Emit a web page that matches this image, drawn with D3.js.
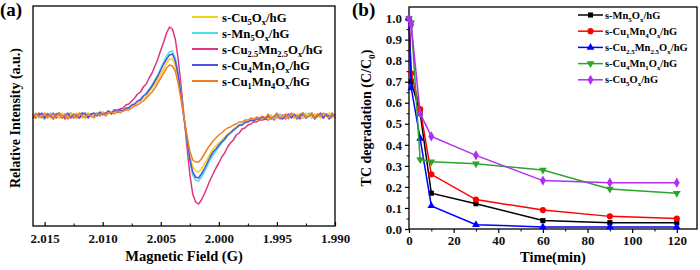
<!DOCTYPE html>
<html>
<head>
<meta charset="utf-8">
<script src="https://cdn.jsdelivr.net/npm/d3@7"></script>
<style>
  body { margin: 0; background: #fff; }
  svg { display: block; font-family: "Liberation Serif", "Times New Roman", serif; font-weight: bold; }
</style>
</head>
<body>
<div id="chart"></div>
<script>
// ---------- panel (a): EPR spectra ----------
const field = [
  2.01600, 2.01575, 2.01550, 2.01525, 2.01500, 2.01475, 2.01450, 2.01425, 2.01400, 2.01375,
  2.01350, 2.01325, 2.01300, 2.01275, 2.01250, 2.01225, 2.01200, 2.01175, 2.01150, 2.01125,
  2.01100, 2.01075, 2.01050, 2.01025, 2.01000, 2.00975, 2.00950, 2.00925, 2.00900, 2.00875,
  2.00850, 2.00825, 2.00800, 2.00775, 2.00750, 2.00725, 2.00700, 2.00675, 2.00650, 2.00625,
  2.00600, 2.00575, 2.00550, 2.00525, 2.00500, 2.00475, 2.00450, 2.00425, 2.00400, 2.00375,
  2.00350, 2.00325, 2.00300, 2.00275, 2.00250, 2.00225, 2.00200, 2.00175, 2.00150, 2.00125,
  2.00100, 2.00075, 2.00050, 2.00025, 2.00000, 1.99975, 1.99950, 1.99925, 1.99900, 1.99875,
  1.99850, 1.99825, 1.99800, 1.99775, 1.99750, 1.99725, 1.99700, 1.99675, 1.99650, 1.99625,
  1.99600, 1.99575, 1.99550, 1.99525, 1.99500, 1.99475, 1.99450, 1.99425, 1.99400, 1.99375,
  1.99350, 1.99325, 1.99300, 1.99275, 1.99250, 1.99225, 1.99200, 1.99175, 1.99150, 1.99125,
  1.99100, 1.99075, 1.99050, 1.99025, 1.99000
];

const eprCu25Mn25 = [
  2, -2, 3, 0, -3, 2, -1, 3, -2, 1,
  2, -3, 0, 3, -2, 2, -2, 1, 3, -1,
  2, 0, 3, 1, 4, 2, 5, 3, 6, 6,
  7, 8, 11, 12, 15, 18, 22, 24, 29, 32,
  38, 43, 50, 57, 66, 74, 83, 89, 87, 77,
  57, 30, 0, -30, -58, -78, -86, -88, -84, -78,
  -71, -64, -58, -52, -47, -41, -37, -31, -27, -24,
  -19, -17, -13, -12, -9, -8, -6, -6, -4, -4,
  -3, -4, -1, -4, -1, -3, 1, -3, -1, 2,
  -2, 1, -3, 2, -2, 0, 3, -2, 2, 0,
  -2, 2, 0, 3, -2
];
const eprMn5 = [
  0, 3, -2, 2, -3, 0, 3, -2, 2, -2,
  0, 2, -2, 3, 0, -2, 2, 3, 0, 2,
  -1, 2, 3, 0, 3, 1, 4, 2, 5, 3,
  5, 6, 7, 9, 10, 12, 15, 17, 20, 23,
  27, 31, 36, 41, 48, 54, 60, 64, 65, 58,
  43, 22, -1, -24, -45, -59, -64, -65, -61, -56,
  -50, -44, -39, -35, -31, -27, -24, -20, -17, -15,
  -12, -10, -9, -7, -6, -5, -4, -4, -2, -3,
  -1, -3, 1, -3, -1, 2, -2, 0, -3, 2,
  0, -2, 2, -2, 0, 3, -2, 0, 2, -2,
  2, 0, -2, 2, 0
];
const eprCu4Mn1 = [
  -2, 2, 0, 3, -2, 2, 0, -3, 2, 3,
  -2, 0, 3, -2, 2, 0, -2, 3, 2, -2,
  2, 3, 0, 4, 1, 3, 5, 2, 6, 4,
  6, 5, 8, 8, 11, 12, 15, 16, 20, 22,
  26, 30, 35, 40, 46, 52, 57, 61, 62, 55,
  41, 20, -2, -23, -43, -56, -61, -62, -58, -53,
  -47, -41, -36, -33, -29, -26, -23, -19, -17, -14,
  -12, -9, -9, -6, -6, -4, -5, -3, -3, -1,
  -3, 0, -3, -1, 2, -2, -3, 0, 2, -2,
  2, -3, 0, 3, -2, 0, 2, -3, 0, 3,
  -2, 2, -3, 0, 2
];
const eprCu5 = [
  2, 0, -2, 2, 0, 3, -2, 0, 2, -2,
  3, 0, -2, 2, 0, 3, 0, -2, 2, 3,
  0, 2, 1, 3, 4, 1, 4, 2, 5, 4,
  5, 5, 7, 8, 9, 11, 13, 15, 18, 20,
  24, 28, 32, 37, 42, 47, 53, 57, 57, 51,
  38, 19, -1, -21, -40, -51, -55, -56, -53, -48,
  -43, -38, -33, -30, -27, -24, -21, -18, -16, -13,
  -11, -9, -8, -7, -5, -5, -3, -4, -2, -2,
  -1, -3, 0, -2, 2, -3, 0, -2, 2, 0,
  -2, 2, 0, -2, 3, 0, -2, 2, 0, -2,
  2, 0, 3, -2, 0
];
const eprCu1Mn4 = [
  -3, 2, 0, -2, 3, -2, 2, -3, 0, 3,
  -2, 2, -3, 0, 2, -2, 3, 0, -2, 2,
  0, -2, 2, 0, 3, 0, 3, 4, 2, 5,
  3, 5, 6, 6, 8, 10, 11, 13, 15, 18,
  21, 24, 28, 33, 38, 43, 48, 51, 50, 45,
  33, 16, -2, -19, -35, -44, -46, -46, -43, -38,
  -33, -29, -25, -22, -19, -17, -14, -12, -11, -9,
  -8, -6, -6, -4, -4, -2, -3, -1, -2, 0,
  -2, 2, -3, 0, 3, -2, 0, 2, -2, 3,
  0, -2, 2, 3, -2, 0, 3, -2, 2, 0,
  3, 0, -2, 2, 0
];

const fieldTicks = [2.015, 2.010, 2.005, 2.000, 1.995, 1.990];
const fieldMinor = [2.0125, 2.0075, 2.0025, 1.9975, 1.9925];

// legend order, draw order is separate
const eprLegend = [
  {label: "s-Cu_5O_x/hG", values: eprCu5, color: "#f0d41a"},
  {label: "s-Mn_5O_x/hG", values: eprMn5, color: "#48e2e6"},
  {label: "s-Cu_{2.5}Mn_{2.5}O_x/hG", values: eprCu25Mn25, color: "#e0347e"},
  {label: "s-Cu_4Mn_1O_x/hG", values: eprCu4Mn1, color: "#5650e2"},
  {label: "s-Cu_1Mn_4O_x/hG", values: eprCu1Mn4, color: "#f47c20"}
];
const eprDrawOrder = [2, 1, 0, 3, 4];

// ---------- panel (b): TC degradation ----------
const times = [0, 1, 5, 10, 30, 60, 90, 120];
const tcMn5 = [1.00, 0.70, 0.55, 0.17, 0.12, 0.04, 0.03, 0.03];
const tcCu1Mn4 = [1.00, 0.74, 0.57, 0.26, 0.14, 0.09, 0.06, 0.05];
const tcCu25Mn25 = [1.00, 0.67, 0.43, 0.11, 0.02, 0.01, 0.01, 0.01];
const tcCu4Mn1 = [1.00, 0.98, 0.33, 0.32, 0.31, 0.28, 0.19, 0.17];
const tcCu5 = [1.00, 0.97, 0.55, 0.44, 0.35, 0.23, 0.22, 0.22];

const timeTicks = [0, 20, 40, 60, 80, 100, 120];
const timeMinor = [10, 30, 50, 70, 90, 110];
const tcTicks = [0, 0.1, 0.2, 0.3, 0.4, 0.5, 0.6, 0.7, 0.8, 0.9, 1.0];
const tcMinor = [0.05, 0.15, 0.25, 0.35, 0.45, 0.55, 0.65, 0.75, 0.85, 0.95];

const tcSeries = [
  {label: "s-Mn_5O_x/hG", values: tcMn5, color: "#000000", symbol: d3.symbolSquare, size: 26},
  {label: "s-Cu_1Mn_4O_x/hG", values: tcCu1Mn4, color: "#ff0000", symbol: d3.symbolCircle, size: 30},
  {label: "s-Cu_{2.5}Mn_{2.5}O_x/hG", values: tcCu25Mn25, color: "#0000ff", symbol: d3.symbolTriangle, size: 26, rot: 0},
  {label: "s-Cu_4Mn_1O_x/hG", values: tcCu4Mn1, color: "#2aa52a", symbol: d3.symbolTriangle, size: 26, rot: 180},
  {label: "s-Cu_5O_x/hG", values: tcCu5, color: "#b02ef0", symbol: d3.symbolDiamond, size: 30}
];

// text with _x or _{..} subscripts
function richText(textSel, str, fs) {
  const re = /_\{([^}]*)\}|_(.)|([^_]+)/g;
  let m, inSub = false;
  const shift = fs * 0.3;
  while ((m = re.exec(str))) {
    const isSub = m[3] === undefined;
    const t = isSub ? (m[1] !== undefined ? m[1] : m[2]) : m[3];
    const ts = textSel.append("tspan").text(t);
    if (isSub) {
      ts.attr("font-size", fs * 0.66);
      if (!inSub) ts.attr("dy", shift);
      inSub = true;
    } else {
      if (inSub) ts.attr("dy", -shift);
      inSub = false;
    }
  }
}

const svg = d3.select("#chart").append("svg")
    .attr("width", 700)
    .attr("height", 270);

// ===== panel (a) =====
const xA = d3.scaleLinear().domain([2.016, 1.990]).range([33, 335]);
const yA = d3.scaleLinear().domain([-110, 110]).range([226, 6]);

const gA = svg.append("g");

const lineA = d3.line()
    .x((d, i) => xA(field[i]))
    .y(d => yA(d));

eprDrawOrder.forEach(k => {
    gA.append("path")
        .datum(eprLegend[k].values)
        .attr("fill", "none")
        .attr("stroke", eprLegend[k].color)
        .attr("stroke-width", 1.5)
        .attr("stroke-linejoin", "round")
        .attr("d", lineA);
});

gA.append("rect")
    .attr("x", xA.range()[0]).attr("y", yA.range()[1])
    .attr("width", xA.range()[1] - xA.range()[0])
    .attr("height", yA.range()[0] - yA.range()[1])
    .attr("fill", "none").attr("stroke", "#000").attr("stroke-width", 1.3);

// inward ticks on bottom axis
const axA = d3.axisBottom(xA).tickValues(fieldTicks).tickFormat(d3.format(".3f"))
    .tickSizeInner(-4).tickSizeOuter(0).tickPadding(8);
const axAg = gA.append("g").attr("transform", `translate(0,${yA.range()[0]})`).call(axA);
axAg.select(".domain").remove();
axAg.selectAll("text").attr("font-size", 13).attr("font-family", "Liberation Serif").attr("font-weight", "bold").attr("fill", "#111");
axAg.selectAll("line").attr("stroke-width", 1.2);
gA.append("g").attr("transform", `translate(0,${yA.range()[0]})`)
    .call(d3.axisBottom(xA).tickValues(fieldMinor).tickFormat("").tickSizeInner(-2.5).tickSizeOuter(0))
    .call(g => g.select(".domain").remove());

gA.append("text")
    .attr("x", (xA.range()[0] + xA.range()[1]) / 2).attr("y", 261)
    .attr("text-anchor", "middle").attr("font-size", 14.5)
    .text("Magnetic Field (G)");

gA.append("text")
    .attr("transform", "translate(20,118) rotate(-90)")
    .attr("text-anchor", "middle").attr("font-size", 14)
    .text("Relative Intensity (a.u.)");

svg.append("text").attr("x", 0).attr("y", 16).attr("font-size", 19).text("(a)");

const legA = gA.append("g").attr("transform", "translate(192,17)");
eprLegend.forEach((s, i) => {
    const row = legA.append("g").attr("transform", `translate(0,${i * 16})`);
    row.append("line").attr("x1", 0).attr("x2", 26).attr("y1", 0).attr("y2", 0)
        .attr("stroke", s.color).attr("stroke-width", 2);
    const t = row.append("text").attr("x", 30).attr("y", 4.5).attr("font-size", 12.8);
    richText(t, s.label, 12.8);
});

// ===== panel (b) =====
const xB = d3.scaleLinear().domain([0, 129.5]).range([409, 698]);
const yB = d3.scaleLinear().domain([0, 1.055]).range([229, 7]);

const gB = svg.append("g");

gB.append("rect")
    .attr("x", xB.range()[0]).attr("y", yB.range()[1])
    .attr("width", xB.range()[1] - xB.range()[0] - 1)
    .attr("height", yB.range()[0] - yB.range()[1])
    .attr("fill", "none").attr("stroke", "#000").attr("stroke-width", 1.3);

const axBx = gB.append("g").attr("transform", `translate(0,${yB.range()[0]})`)
    .call(d3.axisBottom(xB).tickValues(timeTicks).tickSizeInner(4).tickSizeOuter(0).tickPadding(3));
axBx.select(".domain").remove();
gB.append("g").attr("transform", `translate(0,${yB.range()[0]})`)
    .call(d3.axisBottom(xB).tickValues(timeMinor).tickFormat("").tickSizeInner(2.5).tickSizeOuter(0))
    .call(g => g.select(".domain").remove());

const axBy = gB.append("g").attr("transform", `translate(${xB.range()[0]},0)`)
    .call(d3.axisLeft(yB).tickValues(tcTicks).tickFormat(d3.format(".1f")).tickSizeInner(4).tickSizeOuter(0).tickPadding(3));
axBy.select(".domain").remove();
gB.append("g").attr("transform", `translate(${xB.range()[0]},0)`)
    .call(d3.axisLeft(yB).tickValues(tcMinor).tickFormat("").tickSizeInner(2.5).tickSizeOuter(0))
    .call(g => g.select(".domain").remove());

[axBx, axBy].forEach(a => {
    a.selectAll("text").attr("font-size", 13).attr("font-family", "Liberation Serif").attr("font-weight", "bold").attr("fill", "#111");
    a.selectAll("line").attr("stroke-width", 1.2);
});

const lineB = d3.line().x((d, i) => xB(times[i])).y(d => yB(d));

tcSeries.forEach(s => {
    const g = gB.append("g");
    g.append("path").datum(s.values)
        .attr("fill", "none").attr("stroke", s.color).attr("stroke-width", 1.5)
        .attr("d", lineB);
    g.selectAll("path.mk").data(s.values).join("path")
        .attr("class", "mk")
        .attr("d", d3.symbol().type(s.symbol).size(s.size))
        .attr("transform", (d, i) => `translate(${xB(times[i])},${yB(d)}) rotate(${s.rot || 0})`)
        .attr("fill", s.color);
});

gB.append("text")
    .attr("x", 553).attr("y", 262)
    .attr("text-anchor", "middle").attr("font-size", 14.5)
    .text("Time(min)");

const yLabB = gB.append("text")
    .attr("transform", "translate(371,118) rotate(-90)")
    .attr("text-anchor", "middle").attr("font-size", 14);
richText(yLabB, "TC degradation (C/C_0)", 14);

svg.append("text").attr("x", 352).attr("y", 16).attr("font-size", 19).text("(b)");

const legB = gB.append("g").attr("transform", "translate(578,15)");
tcSeries.forEach((s, i) => {
    const row = legB.append("g").attr("transform", `translate(0,${i * 16.2})`);
    row.append("line").attr("x1", 0).attr("x2", 25).attr("y1", 0).attr("y2", 0)
        .attr("stroke", s.color).attr("stroke-width", 1.5);
    row.append("path")
        .attr("d", d3.symbol().type(s.symbol).size(s.size))
        .attr("transform", `translate(12.5,0) rotate(${s.rot || 0})`)
        .attr("fill", s.color);
    const t = row.append("text").attr("x", 27).attr("y", 3.5).attr("font-size", 10.5);
    richText(t, s.label, 10.5);
});
</script>
</body>
</html>
